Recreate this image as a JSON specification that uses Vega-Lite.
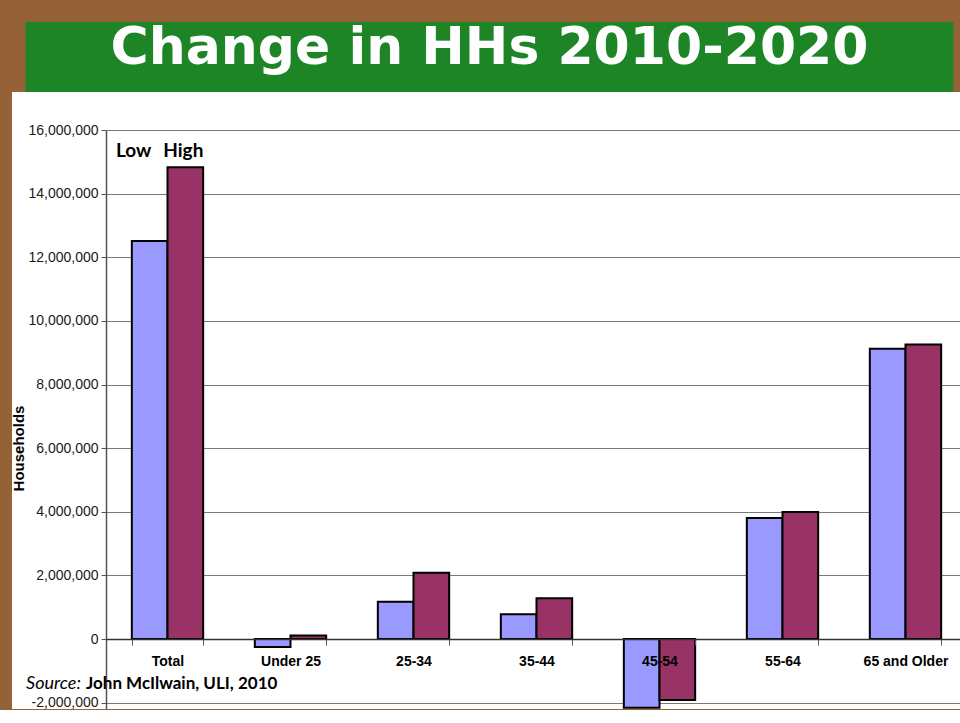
{
  "$schema": "https://vega.github.io/schema/vega-lite/v6.json",
  "padding": {"left": 11, "top": 22, "right": 0, "bottom": 0},
  "background": "#946236",
  "config": {"view": {"stroke": null}},
  "spacing": 0,
  "center": true,
  "datasets": {
    "hh": [
      {"group": "Total", "series": "Low", "value": 12510000},
      {"group": "Total", "series": "High", "value": 14830000},
      {"group": "Under 25", "series": "Low", "value": -250000},
      {"group": "Under 25", "series": "High", "value": 110000},
      {"group": "25-34", "series": "Low", "value": 1170000},
      {"group": "25-34", "series": "High", "value": 2080000},
      {"group": "35-44", "series": "Low", "value": 780000},
      {"group": "35-44", "series": "High", "value": 1280000},
      {"group": "45-54", "series": "Low", "value": -2160000},
      {"group": "45-54", "series": "High", "value": -1920000},
      {"group": "55-64", "series": "Low", "value": 3800000},
      {"group": "55-64", "series": "High", "value": 3990000},
      {"group": "65 and Older", "series": "Low", "value": 9120000},
      {"group": "65 and Older", "series": "High", "value": 9260000}
    ]
  },
  "vconcat": [
    {
      "width": 928,
      "height": 70,
      "view": {"fill": "#1d8526", "stroke": null},
      "data": {"values": [{"title": "Change in HHs 2010-2020"}]},
      "mark": {"type": "text", "font": "DejaVu Sans", "fontWeight": "bold", "fontSize": 52, "color": "white", "dy": -9},
      "encoding": {"text": {"field": "title"}}
    },
    {
      "width": 955,
      "height": 617,
      "view": {"fill": "white", "stroke": null},
      "resolve": {"scale": {"x": "independent", "y": "independent"}},
      "layer": [
        {
          "data": {"name": "hh"},
          "mark": {"type": "bar", "stroke": "black", "strokeWidth": 2},
          "encoding": {
            "x": {
              "field": "group", "type": "nominal",
              "sort": ["Total", "Under 25", "25-34", "35-44", "45-54", "55-64", "65 and Older"],
              "scale": {"domain": ["Total", "Under 25", "25-34", "35-44", "45-54", "55-64", "65 and Older"], "rangeMin": 94, "paddingInner": 0.42, "paddingOuter": 0.21},
              "axis": {
                "title": null, "orient": "bottom", "offset": -70, "zindex": 1,
                "tickBand": "extent", "tickSize": 6, "tickColor": "#555555",
                "domainColor": "#333333", "domainWidth": 1.5,
                "labelFont": "Liberation Sans", "labelFontWeight": "bold", "labelFontSize": 14,
                "labelColor": "black", "labelPadding": 9, "labelAngle": 0
              }
            },
            "xOffset": {"field": "series", "sort": ["Low", "High"], "scale": {"domain": ["Low", "High"], "paddingInner": 0, "paddingOuter": 0}},
            "y": {
              "field": "value", "type": "quantitative",
              "scale": {"domain": [-2200000, 16000000], "rangeMax": 38, "nice": false},
              "axis": {
                "values": [-2000000, 0, 2000000, 4000000, 6000000, 8000000, 10000000, 12000000, 14000000, 16000000],
                "labelExpr": "replace(format(datum.value, ','), '−', '-')", "title": "Households", "offset": -94,
                "grid": true, "gridColor": "#7a7a7a", "gridWidth": 1,
                "domainColor": "#555555", "domainWidth": 1.5, "tickColor": "#555555", "tickSize": 5,
                "labelFont": "Liberation Sans", "labelFontSize": 14, "labelColor": "#1a1a1a", "labelPadding": 3,
                "titleFont": "Liberation Sans", "titleFontWeight": "bold", "titleFontSize": 15,
                "titleColor": "black", "titlePadding": 1, "titleY": 356
              }
            },
            "color": {"field": "series", "scale": {"domain": ["Low", "High"], "range": ["#9999FF", "#993366"]}, "legend": null}
          }
        },
        {
          "data": {"values": [{"group": "Total", "series": "Low", "label": "Low"}]},
          "mark": {"type": "text", "font": "Lato", "fontWeight": "bold", "fontSize": 19, "color": "black", "baseline": "middle", "dx": -16},
          "encoding": {
            "x": {"field": "group", "type": "nominal", "scale": {"domain": ["Total", "Under 25", "25-34", "35-44", "45-54", "55-64", "65 and Older"], "rangeMin": 94, "paddingInner": 0.42, "paddingOuter": 0.21}, "axis": null},
            "xOffset": {"field": "series", "scale": {"domain": ["Low", "High"], "paddingInner": 0, "paddingOuter": 0}},
            "y": {"datum": 15340000, "type": "quantitative", "scale": {"domain": [-2200000, 16000000], "rangeMax": 38, "nice": false}, "axis": null},
            "text": {"field": "label"}
          }
        },
        {
          "data": {"values": [{"group": "Total", "series": "High", "label": "High"}]},
          "mark": {"type": "text", "font": "Lato", "fontWeight": "bold", "fontSize": 19, "color": "black", "baseline": "middle", "dx": -2},
          "encoding": {
            "x": {"field": "group", "type": "nominal", "scale": {"domain": ["Total", "Under 25", "25-34", "35-44", "45-54", "55-64", "65 and Older"], "rangeMin": 94, "paddingInner": 0.42, "paddingOuter": 0.21}, "axis": null},
            "xOffset": {"field": "series", "scale": {"domain": ["Low", "High"], "paddingInner": 0, "paddingOuter": 0}},
            "y": {"datum": 15340000, "type": "quantitative", "scale": {"domain": [-2200000, 16000000], "rangeMax": 38, "nice": false}, "axis": null},
            "text": {"field": "label"}
          }
        },
        {
          "data": {"values": [{"text": "Source:"}]},
          "mark": {"type": "text", "font": "Lato", "fontStyle": "italic", "fontSize": 18, "color": "black", "align": "left", "baseline": "middle"},
          "encoding": {
            "x": {"datum": 0.0147, "type": "quantitative", "scale": {"domain": [0, 1], "nice": false, "zero": false}, "axis": null},
            "y": {"datum": -1415000, "type": "quantitative", "scale": {"domain": [-2200000, 16000000], "rangeMax": 38, "nice": false}, "axis": null},
            "text": {"field": "text"}
          }
        },
        {
          "data": {"values": [{"text": "John McIlwain, ULI, 2010"}]},
          "mark": {"type": "text", "font": "Lato", "fontWeight": "bold", "fontSize": 17, "color": "black", "align": "left", "baseline": "middle"},
          "encoding": {
            "x": {"datum": 0.0775, "type": "quantitative", "scale": {"domain": [0, 1], "nice": false, "zero": false}, "axis": null},
            "y": {"datum": -1415000, "type": "quantitative", "scale": {"domain": [-2200000, 16000000], "rangeMax": 38, "nice": false}, "axis": null},
            "text": {"field": "text"}
          }
        }
      ]
    }
  ]
}
